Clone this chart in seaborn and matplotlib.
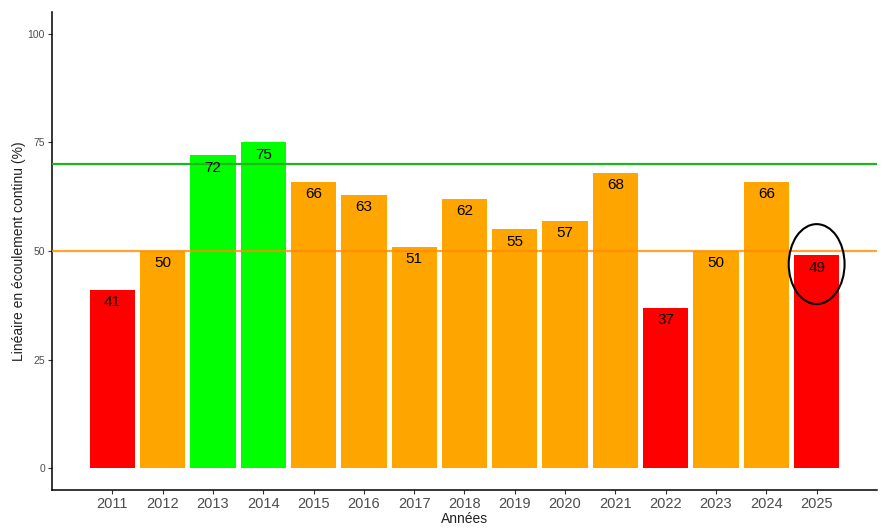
import pandas as pd
import matplotlib.pyplot as plt
import seaborn as sns
from matplotlib.patches import Ellipse

sns.set_theme(style="white")
plt.rcParams["font.family"] = ["Liberation Sans", "DejaVu Sans"]

# données
annees = ["2011", "2012", "2013", "2014", "2015", "2016", "2017", "2018",
          "2019", "2020", "2021", "2022", "2023", "2024", "2025"]
valeurs = [41, 50, 72, 75, 66, 63, 51, 62, 55, 57, 68, 37, 50, 66, 49]
classes = ["rouge", "orange", "vert", "vert", "orange", "orange", "orange", "orange",
           "orange", "orange", "orange", "rouge", "orange", "orange", "rouge"]
seuil_vert = 70
seuil_orange = 50

couleurs = {"rouge": "#FF0000", "orange": "#FFA500", "vert": "#00FF00"}

df = pd.DataFrame({"Annee": annees, "Valeur": valeurs, "Classe": classes})

fig = plt.figure(figsize=(8.9, 5.28), dpi=100)
ax = fig.add_axes([0.0584, 0.072, 0.927, 0.905])

sns.barplot(data=df, x="Annee", y="Valeur", hue="Classe", palette=couleurs,
            dodge=False, width=0.9, legend=False, ax=ax, saturation=1,
            linewidth=0)

# seuils
ax.axhline(seuil_vert, color="#1FB51F", lw=1.6, zorder=3)
ax.axhline(seuil_orange, color="#FF8C00", lw=1.6, alpha=0.8, zorder=3)

# étiquettes
for i, v in enumerate(valeurs):
    ax.text(i, v - 2.8, str(v), ha="center", va="center", fontsize=11,
            color="black", zorder=4)

# ellipse sur 2025
ax.add_patch(Ellipse((len(annees) - 1, 47), 1.11, 18.4, fill=False,
                     edgecolor="black", lw=1.5, zorder=5))

ax.set_xlim(-1.2, len(annees) - 1 + 1.2)
ax.set_ylim(-5, 105)
ax.set_yticks([0, 25, 50, 75, 100])
ax.set_xlabel("Années", fontsize=10, color="#222222", labelpad=1)
ax.set_ylabel("Linéaire en écoulement continu (%)", fontsize=10, color="#222222",
              labelpad=1)
ax.tick_params(axis="y", labelsize=7.5, labelcolor="#4D4D4D", length=3,
               width=0.8, color="#333333", left=True, pad=2)
ax.tick_params(axis="x", labelsize=10.5, labelcolor="#4D4D4D", length=3,
               width=0.8, color="#333333", bottom=True, pad=2)
for s in ["top", "right"]:
    ax.spines[s].set_visible(False)
for s in ["left", "bottom"]:
    ax.spines[s].set_color("black")
    ax.spines[s].set_linewidth(1.1)

plt.savefig("out.png", dpi=100)
